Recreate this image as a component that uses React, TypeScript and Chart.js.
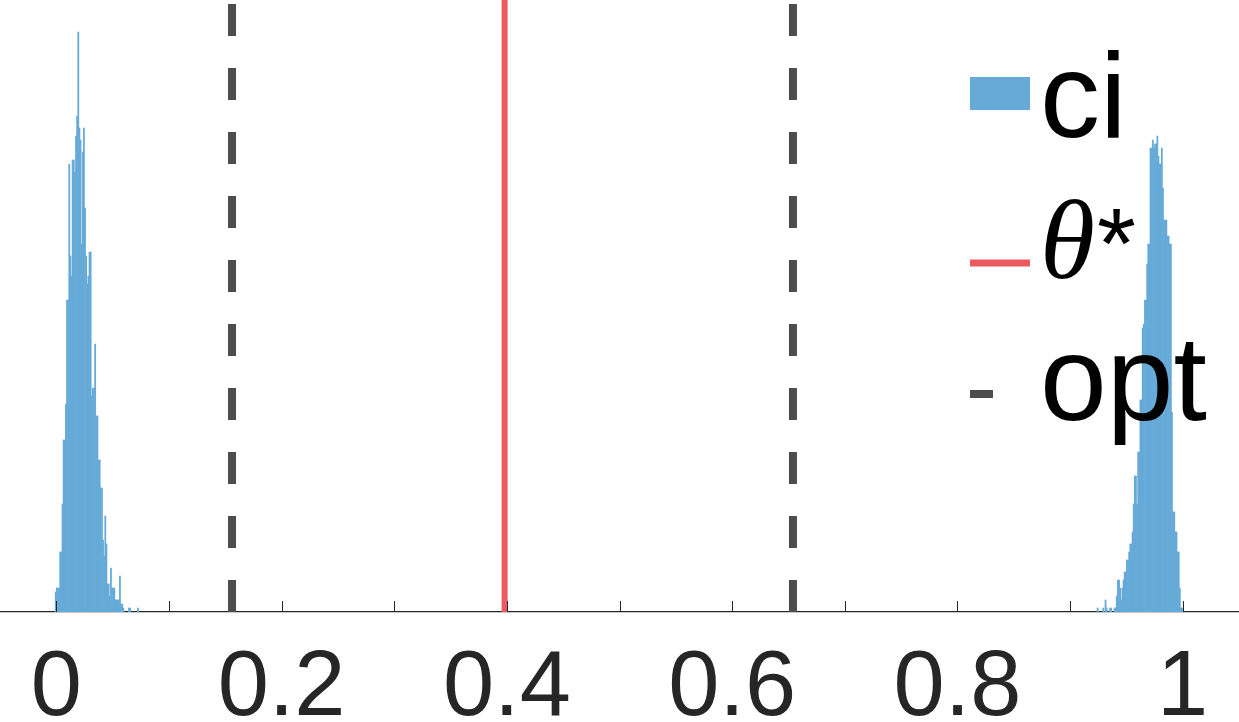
import React, { useEffect, useRef } from "react";
import { Chart, registerables } from "chart.js";

Chart.register(...registerables);

// ---------- data ----------
const BIN_WIDTH = 0.001;
const LEFT_START = -0.001;
const leftCounts = [
  5, 6, 6, 6, 15, 15, 27, 43, 43, 52, 78, 78, 112, 89, 84, 113, 113, 110, 119, 124,
  145, 121, 118, 92, 115, 121, 101, 89, 82, 84, 90, 90, 54, 56, 56, 67, 49, 49, 38, 38,
  31, 31, 18, 14, 24, 17, 7, 7, 4, 11, 6, 6, 6, 3, 3, 3, 3, 9, 2, 2,
  1, 0, 0, 0, 0, 1, 1, 0, 0, 0, 0, 0, 0, 1,
];
const RIGHT_START = 0.924;
const rightCounts = [
  1, 0, 0, 0, 0, 1, 0, 3, 1, 0, 0, 1, 1, 0, 0, 1, 1, 4, 8, 8,
  6, 3, 6, 8, 10, 10, 13, 13, 15, 17, 17, 20, 27, 34, 34, 27, 40, 40, 53, 53,
  71, 72, 78, 78, 87, 92, 92, 116, 116, 118, 116, 117, 117, 119, 114, 112, 112, 116, 106, 98,
  98, 98, 94, 94, 92, 92, 50, 25, 25, 20, 20, 15, 15, 6, 1, 1,
];
const THETA_STAR = 0.398;
const OPT_VALUES = [0.156, 0.654];
const X_MIN = -0.05;
const X_MAX = 1.05;
const Y_MAX = 153;
const TICK_VALUES = [0, 0.1, 0.2, 0.3, 0.4, 0.5, 0.6, 0.7, 0.8, 0.9, 1];
const TICK_LABELS = ["0", "", "0.2", "", "0.4", "", "0.6", "", "0.8", "", "1"];
const LEGEND_LABELS = ["ci", "\u03B8", "opt"];
const THETA_SUPERSCRIPT = "*";

// ---------- styles ----------
const BLUE = "#66aad8";
const RED = "#ea5a60";
const DARK = "#4d4d4d";
const AXIS = "#262626";

function histPoints(start: number, counts: number[]) {
  const pts: { x: number; y: number }[] = [];
  counts.forEach((c, i) => {
    if (c > 0) pts.push({ x: start + (i + 0.5) * BIN_WIDTH, y: c });
  });
  return pts;
}

const innerTicksPlugin = {
  id: "innerTicks",
  afterDatasetsDraw(chart: any) {
    const xs = chart.scales.x;
    const ctx = chart.ctx;
    const bottom = chart.chartArea.bottom;
    ctx.save();
    ctx.strokeStyle = AXIS;
    ctx.lineWidth = 1;
    TICK_VALUES.forEach((v) => {
      const px = Math.round(xs.getPixelForValue(v)) + 0.5;
      ctx.beginPath();
      ctx.moveTo(px, bottom);
      ctx.lineTo(px, bottom - 11);
      ctx.stroke();
    });
    ctx.restore();
  },
};

const legendPlugin = {
  id: "customLegend",
  afterDraw(chart: any) {
    const ctx = chart.ctx;
    const ca = chart.chartArea;
    const x0 = ca.right - 269;
    const tx = x0 + 70;
    ctx.save();
    // ci
    ctx.fillStyle = BLUE;
    ctx.fillRect(x0, 77, 60, 33);
    ctx.fillStyle = "#000";
    ctx.textBaseline = "alphabetic";
    ctx.textAlign = "left";
    ctx.font = '120px "Liberation Sans", Arial, sans-serif';
    ctx.fillText(LEGEND_LABELS[0], tx, 137);
    // theta*
    ctx.strokeStyle = RED;
    ctx.lineWidth = 7;
    ctx.beginPath();
    ctx.moveTo(x0, 263);
    ctx.lineTo(x0 + 60, 263);
    ctx.stroke();
    ctx.font = 'italic 112px "Liberation Serif", "DejaVu Serif", serif';
    ctx.fillText(LEGEND_LABELS[1], tx, 278);
    const tw = ctx.measureText(LEGEND_LABELS[1]).width;
    ctx.font = '100px "Liberation Sans", Arial, sans-serif';
    ctx.fillText(THETA_SUPERSCRIPT, tx + tw + 2, 278);
    // opt
    ctx.strokeStyle = DARK;
    ctx.lineWidth = 8;
    ctx.beginPath();
    ctx.moveTo(x0, 394);
    ctx.lineTo(x0 + 23, 394);
    ctx.stroke();
    ctx.font = '120px "Liberation Sans", Arial, sans-serif';
    ctx.fillText(LEGEND_LABELS[2], tx, 420);
    ctx.restore();
  },
};

export default function App() {
  const canvasRef = useRef<HTMLCanvasElement | null>(null);

  useEffect(() => {
    if (!canvasRef.current) return;
    const vline = (x: number) => [
      { x, y: 0 },
      { x, y: Y_MAX },
    ];
    const chart = new Chart(canvasRef.current, {
      type: "bar",
      data: {
        datasets: [
          {
            type: "bar",
            label: LEGEND_LABELS[0],
            data: [...histPoints(LEFT_START, leftCounts), ...histPoints(RIGHT_START, rightCounts)],
            backgroundColor: BLUE,
            borderWidth: 0,
            barPercentage: 1,
            categoryPercentage: 1,
          } as any,
          {
            type: "line",
            label: LEGEND_LABELS[1],
            data: vline(THETA_STAR),
            borderColor: RED,
            borderWidth: 6,
            pointRadius: 0,
            fill: false,
          } as any,
          ...OPT_VALUES.map(
            (v) =>
              ({
                type: "line",
                label: LEGEND_LABELS[2],
                data: vline(v),
                borderColor: DARK,
                borderWidth: 8,
                borderDash: [32, 32],
                pointRadius: 0,
                fill: false,
              } as any)
          ),
        ],
      },
      options: {
        animation: false,
        responsive: true,
        maintainAspectRatio: false,
        layout: { padding: 0 },
        plugins: {
          legend: { display: false },
          tooltip: { enabled: false },
        },
        scales: {
          x: {
            type: "linear",
            min: X_MIN,
            max: X_MAX,
            offset: false,
            grid: { display: false, drawTicks: false },
            border: { display: true, color: AXIS, width: 1.2 },
            afterBuildTicks: (scale: any) => {
              scale.ticks = TICK_VALUES.map((v) => ({ value: v }));
            },
            afterFit: (scale: any) => {
              scale.height = 110;
            },
            ticks: {
              autoSkip: false,
              maxRotation: 0,
              minRotation: 0,
              padding: 22,
              color: AXIS,
              font: { family: '"Liberation Sans", Arial, sans-serif', size: 92 },
              callback: (_v: any, i: number) => TICK_LABELS[i],
            },
          },
          y: {
            display: false,
            min: 0,
            max: Y_MAX,
          },
        },
      },
      plugins: [innerTicksPlugin, legendPlugin],
    } as any);
    return () => chart.destroy();
  }, []);

  return (
    <div style={{ position: "fixed", left: 0, top: 0, width: 1239, height: 722, background: "#fff" }}>
      <canvas ref={canvasRef} />
    </div>
  );
}
